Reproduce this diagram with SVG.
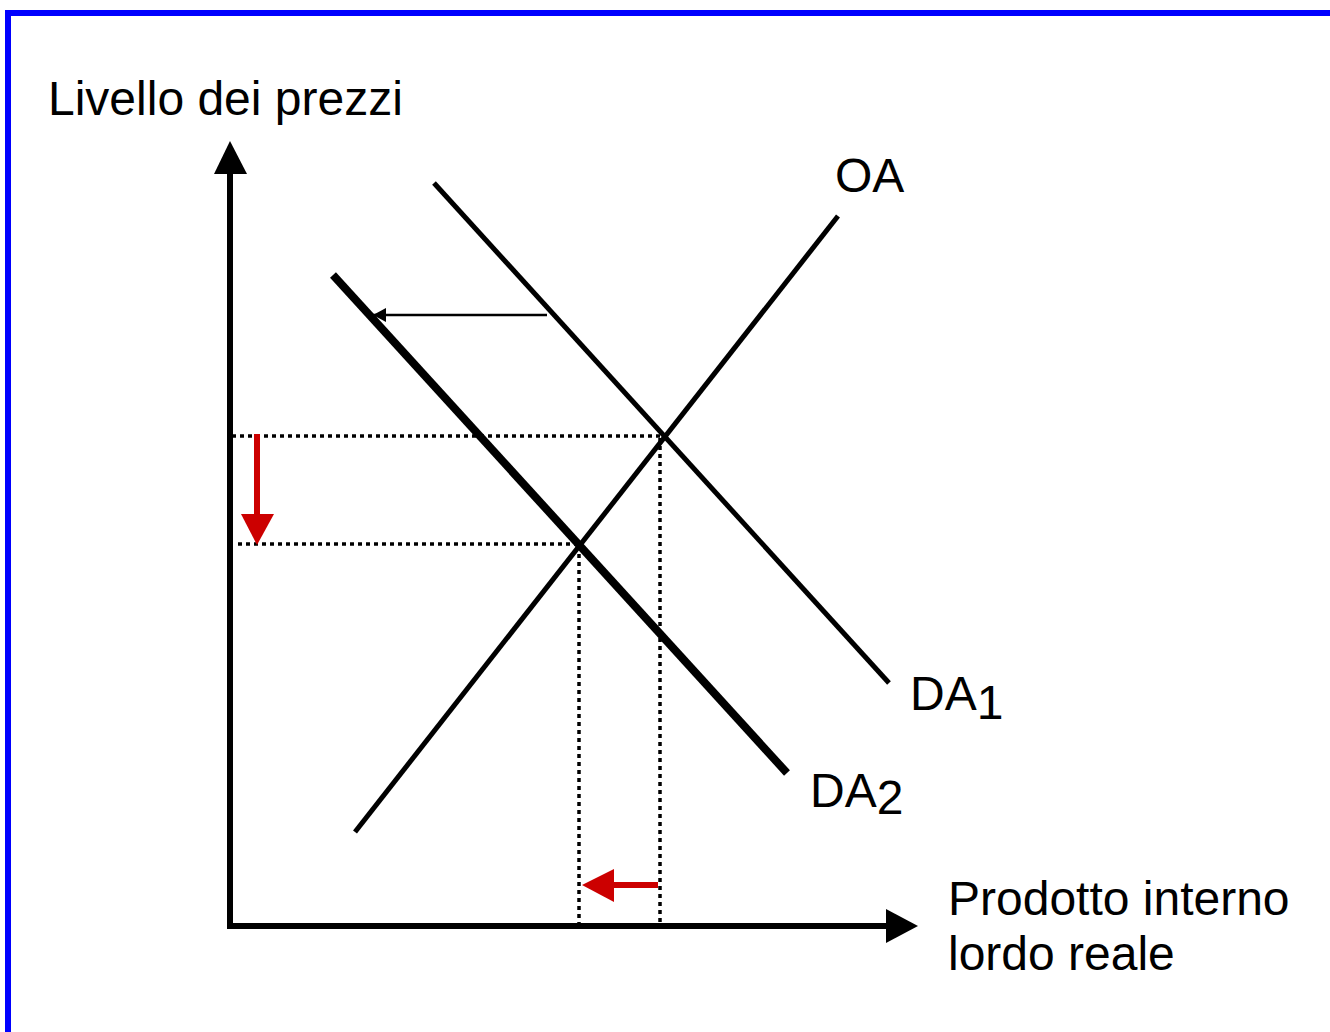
<svg xmlns="http://www.w3.org/2000/svg" width="1330" height="1032" viewBox="0 0 1330 1032">
<style>
text{font-family:"Liberation Sans",Arial,sans-serif;font-size:48px;fill:#000}
.curve{stroke:#000;fill:none;stroke-linecap:butt}
.dot{stroke:#000;stroke-width:3.5;stroke-dasharray:4 4;fill:none}
.red{stroke:#CC0000;stroke-width:6;fill:none}
</style>
<defs>
<marker id="thin" markerWidth="14" markerHeight="14" refX="13" refY="7" orient="auto" markerUnits="userSpaceOnUse">
<path d="M13,7 L0,0 L0,14 Z" fill="#000"/>
</marker>
</defs>
<rect x="0" y="0" width="1330" height="1032" fill="#fff"/>
<rect x="8" y="13" width="1340" height="1040" fill="none" stroke="#0000FF" stroke-width="6"/>
<g id="axes">
<line x1="230" y1="170" x2="230" y2="929" stroke="#000" stroke-width="6"/>
<polygon points="230,141 214,174 247,174" fill="#000"/>
<line x1="227" y1="926" x2="890" y2="926" stroke="#000" stroke-width="6"/>
<polygon points="918,926 886,909 886,943" fill="#000"/>
</g>
<g id="guides">
<line class="dot" x1="232" y1="436" x2="662" y2="436"/>
<line class="dot" x1="238" y1="544" x2="579" y2="544"/>
<line class="dot" x1="579" y1="546" x2="579" y2="923"/>
<line class="dot" x1="660" y1="438" x2="660" y2="923"/>
</g>
<g id="OA">
<line class="curve" x1="355" y1="832" x2="838" y2="216" stroke-width="5"/>
<text x="835" y="192">OA</text>
</g>
<g id="DA1">
<line class="curve" x1="434" y1="183" x2="889" y2="683" stroke-width="5"/>
<text x="910" y="710">DA<tspan dy="9">1</tspan></text>
</g>
<g id="DA2">
<line class="curve" x1="333" y1="275" x2="787" y2="773" stroke-width="8"/>
<text x="810" y="807">DA<tspan dy="7">2</tspan></text>
</g>
<g id="connectors">
<line x1="547" y1="315" x2="373" y2="315" stroke="#000" stroke-width="2.5" marker-end="url(#thin)"/>
<line class="red" x1="257" y1="434" x2="257" y2="516"/>
<polygon points="257,545 241,514 274,514" fill="#CC0000"/>
<line class="red" x1="658" y1="885" x2="612" y2="885"/>
<polygon points="582,885 614,869 614,902" fill="#CC0000"/>
</g>
<g id="labels">
<text x="48" y="115">Livello dei prezzi</text>
<text x="948" y="915">Prodotto interno</text>
<text x="948" y="970">lordo reale</text>
</g>
</svg>
